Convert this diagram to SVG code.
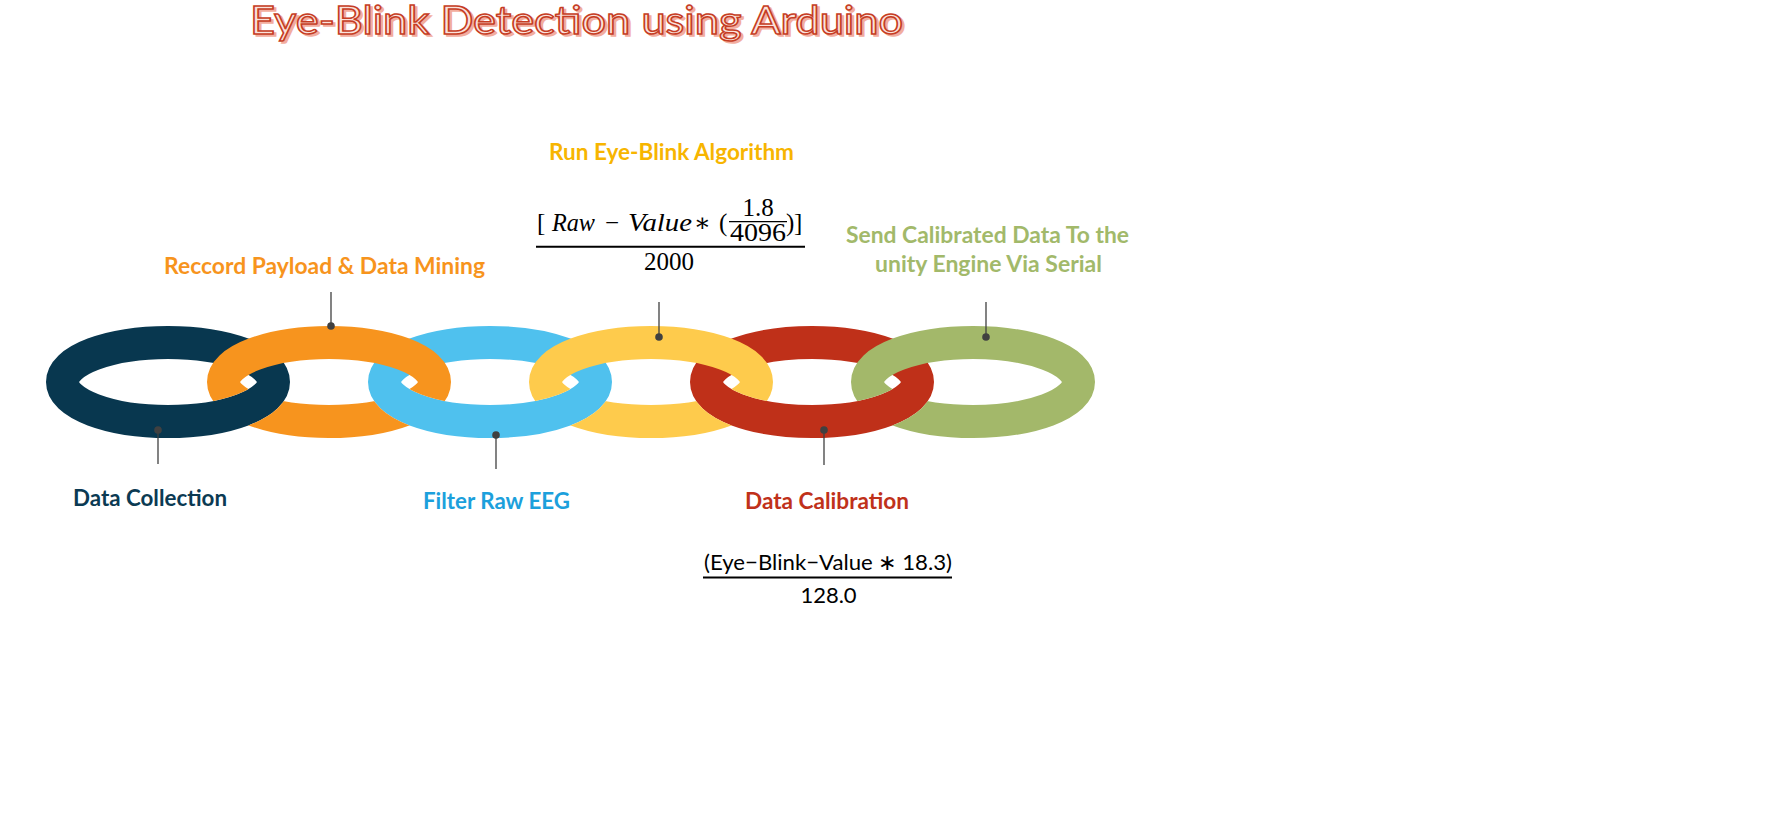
<svg xmlns="http://www.w3.org/2000/svg" width="1772" height="821" viewBox="0 0 1772 821">
<style>
.lbl{font-family:Lato,"Liberation Sans",sans-serif;font-weight:700;font-size:22px;text-anchor:middle}
.ring{fill:none;stroke-width:33}
.lead{stroke:#404040;stroke-width:1.3;fill:none}
.dot{fill:#404040}
.m{font-family:"Liberation Serif","DejaVu Serif",serif;font-size:25px;fill:#000}
.mi{font-style:italic}
.f2{font-family:Lato,"Liberation Sans",sans-serif;font-size:22px;fill:#000}
.bar{stroke:#000;fill:none}
.title{font-family:Lato,"Liberation Sans",sans-serif;font-weight:400;font-size:38px}
.cut{fill:none;stroke:#000;stroke-width:33}
</style>
<defs>
<clipPath id="lo" clipPathUnits="objectBoundingBox"><rect x="-0.5" y="0.5" width="2" height="1"/></clipPath>
<mask id="m1" maskUnits="userSpaceOnUse" x="0" y="0" width="1772" height="821"><rect width="1772" height="821" fill="#fff"/><ellipse class="cut" cx="168" cy="382" rx="105.5" ry="39.5" clip-path="url(#lo)"/><ellipse class="cut" cx="490" cy="382" rx="105.5" ry="39.5" clip-path="url(#lo)"/></mask>
<mask id="m3" maskUnits="userSpaceOnUse" x="0" y="0" width="1772" height="821"><rect width="1772" height="821" fill="#fff"/><ellipse class="cut" cx="490" cy="382" rx="105.5" ry="39.5" clip-path="url(#lo)"/><ellipse class="cut" cx="812" cy="382" rx="105.5" ry="39.5" clip-path="url(#lo)"/></mask>
<mask id="m5" maskUnits="userSpaceOnUse" x="0" y="0" width="1772" height="821"><rect width="1772" height="821" fill="#fff"/><ellipse class="cut" cx="812" cy="382" rx="105.5" ry="39.5" clip-path="url(#lo)"/></mask>
</defs>
<rect width="1772" height="821" fill="#fff"/>

<g id="title">
<text class="title" x="252.5" y="36" textLength="653" lengthAdjust="spacingAndGlyphs" fill="#F2AE9F" stroke="#F2AE9F" stroke-width="1.5">Eye-Blink Detection using Arduino</text>
<text class="title" x="250" y="33.5" textLength="653" lengthAdjust="spacingAndGlyphs" fill="#FBE3DC" stroke="#C63D24" stroke-width="1.5">Eye-Blink Detection using Arduino</text>
</g>

<g id="data-collection">
<ellipse class="ring" cx="168" cy="382" rx="105.5" ry="39.5" stroke="#08374F"/>
<text class="lbl" x="150" y="506" textLength="154" lengthAdjust="spacingAndGlyphs" fill="#0B3A53">Data Collection</text>
</g>
<g id="filter-raw-eeg">
<ellipse class="ring" cx="490" cy="382" rx="105.5" ry="39.5" stroke="#4FC1EE"/>
<text class="lbl" x="496.5" y="509" textLength="147" lengthAdjust="spacingAndGlyphs" fill="#1CA0DC">Filter Raw EEG</text>
</g>
<g id="data-calibration">
<ellipse class="ring" cx="812" cy="382" rx="105.5" ry="39.5" stroke="#BF3019"/>
<text class="lbl" x="827" y="509" textLength="164" lengthAdjust="spacingAndGlyphs" fill="#C0311A">Data Calibration</text>
<g id="formula-2">
<text class="f2" x="828" y="570" text-anchor="middle" textLength="248" lengthAdjust="spacingAndGlyphs">(Eye−Blink−Value ∗ 18.3)</text>
<line class="bar" x1="703" y1="577.5" x2="952" y2="577.5" stroke-width="2"/>
<text class="f2" x="828.5" y="603" text-anchor="middle">128.0</text>
</g>
</g>
<g id="record-payload">
<ellipse class="ring" cx="329" cy="382" rx="105.5" ry="39.5" stroke="#F7941E" mask="url(#m1)"/>
<text class="lbl" x="324.5" y="274" textLength="321" lengthAdjust="spacingAndGlyphs" fill="#F7941D">Reccord Payload &amp; Data Mining</text>
</g>
<g id="run-eye-blink">
<ellipse class="ring" cx="651" cy="382" rx="105.5" ry="39.5" stroke="#FECB4C" mask="url(#m3)"/>
<text class="lbl" x="671.5" y="160" textLength="245" lengthAdjust="spacingAndGlyphs" fill="#F7B500">Run Eye-Blink Algorithm</text>
<g id="formula-1">
<text class="m" x="537" y="230.7">[</text>
<text class="m mi" x="552" y="230.7" textLength="43" lengthAdjust="spacingAndGlyphs">Raw</text>
<text class="m" x="605" y="230.7">−</text>
<text class="m mi" x="628" y="230.7" textLength="64" lengthAdjust="spacingAndGlyphs">Value</text>
<text class="m" x="694" y="230.7">∗</text>
<text class="m" x="719" y="230.7">(</text>
<text class="m" x="758" y="216" text-anchor="middle">1.8</text>
<line class="bar" x1="729" y1="221.7" x2="787" y2="221.7" stroke-width="1.3"/>
<text class="m" x="758" y="240.5" text-anchor="middle" textLength="56" lengthAdjust="spacingAndGlyphs">4096</text>
<text class="m" x="786" y="230.7">)</text>
<text class="m" x="794" y="230.7">]</text>
<line class="bar" x1="536" y1="246.7" x2="805" y2="246.7" stroke-width="2"/>
<text class="m" x="669" y="270" text-anchor="middle" textLength="50" lengthAdjust="spacingAndGlyphs">2000</text>
</g>
</g>
<g id="send-calibrated">
<ellipse class="ring" cx="973" cy="382" rx="105.5" ry="39.5" stroke="#A3B86A" mask="url(#m5)"/>
<text class="lbl" x="987.5" y="243" textLength="283" lengthAdjust="spacingAndGlyphs" fill="#A2B96A">Send Calibrated Data To the</text>
<text class="lbl" x="988.5" y="272" textLength="227" lengthAdjust="spacingAndGlyphs" fill="#A2B96A">unity Engine Via Serial</text>
</g>

<g id="connectors">
<line class="lead" x1="158" y1="430" x2="158" y2="464"/><circle class="dot" cx="158" cy="430" r="3.8"/>
<line class="lead" x1="331" y1="292" x2="331" y2="326"/><circle class="dot" cx="331" cy="326" r="3.8"/>
<line class="lead" x1="496" y1="435" x2="496" y2="469"/><circle class="dot" cx="496" cy="435" r="3.8"/>
<line class="lead" x1="659" y1="302" x2="659" y2="337"/><circle class="dot" cx="659" cy="337" r="3.8"/>
<line class="lead" x1="824" y1="430" x2="824" y2="465"/><circle class="dot" cx="824" cy="430" r="3.8"/>
<line class="lead" x1="986" y1="302" x2="986" y2="337"/><circle class="dot" cx="986" cy="337" r="3.8"/>
</g>
</svg>
